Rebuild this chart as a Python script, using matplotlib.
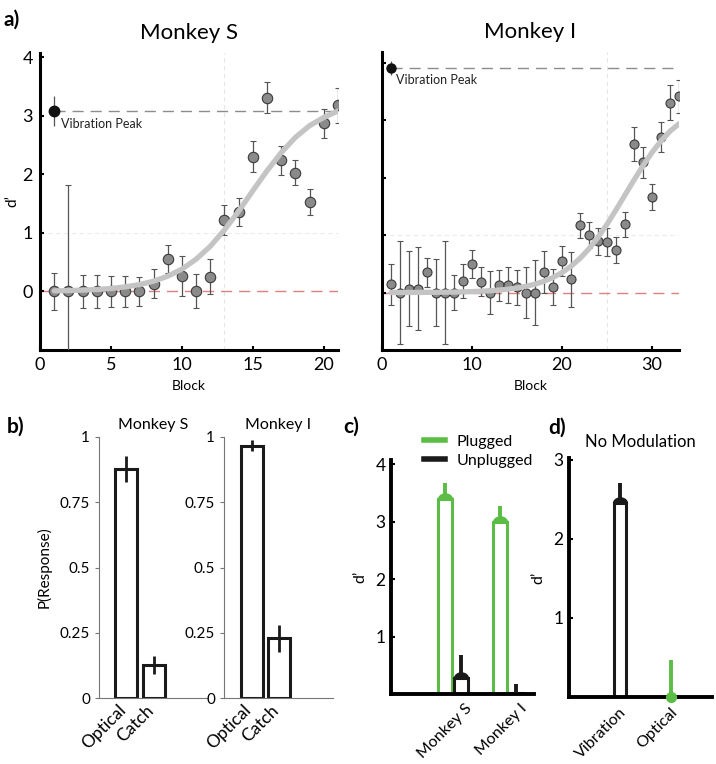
import matplotlib.pyplot as plt
import numpy as np
from matplotlib.lines import Line2D
from matplotlib.path import Path

plt.rcParams['font.family'] = ['Lato', 'DejaVu Sans']

# ---- panel a: d' per block ----
blocks_s = list(range(1, 22))
dprime_s = [0, 0, 0, 0, 0, 0, 0, 0.13, 0.55, 0.26, 0, 0.25, 1.22, 1.36, 2.3,
            3.31, 2.24, 2.03, 1.53, 2.87, 3.18]
err_s = [0.32, 1.82, 0.28, 0.28, 0.26, 0.27, 0.25, 0.25, 0.24, 0.34, 0.29,
         0.3, 0.25, 0.24, 0.26, 0.26, 0.245, 0.22, 0.22, 0.245, 0.3]
fit_s = [0.01, 0.014, 0.022, 0.033, 0.05, 0.077, 0.116, 0.174, 0.26, 0.38,
         0.55, 0.77, 1.05, 1.37, 1.72, 2.06, 2.37, 2.63, 2.83, 2.97, 3.08]
peak_s, peak_s_err = 3.08, 0.26
thresh_s = 13

blocks_i = list(range(1, 34))
dprime_i = [0.145, 0, 0.07, 0.07, 0.35, 0, 0, 0, 0.2, 0.5, 0.19, 0, 0.13,
            0.13, 0.09, 0, 0, 0.36, 0.1, 0.55, 0.23, 1.17, 1.0, 0.89, 0.88,
            0.74, 1.19, 2.59, 2.27, 1.66, 2.71, 3.31, 3.42]
err_i = [0.36, 0.9, 0.66, 0.72, 0.26, 0.58, 0.9, 0.3, 0.3, 0.25, 0.255, 0.37,
         0.27, 0.32, 0.3, 0.44, 0.56, 0.37, 0.31, 0.26, 0.48, 0.22, 0.23,
         0.23, 0.24, 0.23, 0.22, 0.29, 0.27, 0.23, 0.26, 0.3, 0.29]
fit_i = [0.001, 0.002, 0.002, 0.003, 0.004, 0.005, 0.007, 0.009, 0.013,
         0.017, 0.024, 0.032, 0.044, 0.059, 0.08, 0.109, 0.147, 0.197, 0.263,
         0.348, 0.458, 0.595, 0.763, 0.962, 1.19, 1.44, 1.7, 1.96, 2.21,
         2.44, 2.64, 2.81, 2.94]
peak_i, peak_i_err = 3.91, 0.12
thresh_i = 25

# ---- panel b: P(response) ----
b_cats = ['Optical', 'Catch']
resp_s = [0.879, 0.127]
resp_s_err = [0.05, 0.035]
resp_i = [0.967, 0.228]
resp_i_err = [0.02, 0.05]

# ---- panel c: plugged vs unplugged ----
c_monkeys = ['Monkey S', 'Monkey I']
plugged = [3.4, 3.0]
plugged_err = [0.27, 0.27]
unplugged = [0.28, 0.02]
unplugged_err = [0.4, 0.15]

# ---- panel d: no modulation ----
d_cats = ['Vibration', 'Optical']
d_vals = [2.45, 0.0]
d_err = [0.25, 0.47]

green = '#5bbd45'
W, H = 716, 764

# half disc sitting on top of the bar
t = np.linspace(0, np.pi, 20)
roof = Path(np.column_stack([np.cos(t), np.sin(t) * 0.8]), closed=False)


def box(x0, y0, x1, y1):
    return [x0 / W, 1 - y1 / H, (x1 - x0) / W, (y1 - y0) / H]


fig = plt.figure(figsize=(7.16, 7.64), dpi=100)


def curve_panel(rect, title, xb, y, e, fit, peak, peak_err, thresh, xmax, ytop, xticks, show_ylab, ms, txt_y):
    ax = fig.add_axes(rect)
    ax.axvline(thresh, color='#e6e6e6', lw=0.8, ls=(0, (4, 3)), zorder=0)
    ax.axhline(1, color='#ececec', lw=0.8, ls=(0, (4, 3)), zorder=0)
    ax.axhline(0, color='#e08080', lw=1.0, ls=(0, (8, 5)), zorder=1)
    ax.plot([1, xmax], [peak, peak], color='#8c8c8c', lw=1.0, ls=(0, (8, 5)), zorder=1)
    ax.errorbar(xb, y, yerr=e, fmt='o', ms=ms, mfc='#8a8a8a', mec='#3a3a3a',
                mew=0.8, ecolor='#555555', elinewidth=0.9, capsize=2.5,
                capthick=0.9, zorder=3)
    ax.plot(xb, fit, color='#c4c4c4', lw=3.8, solid_capstyle='round', zorder=4)
    ax.errorbar([1], [peak], yerr=[peak_err], fmt='o', ms=ms, color='#111111',
                ecolor='#555555', elinewidth=0.9, capsize=0, zorder=5)
    ax.text(1.5, txt_y, 'Vibration Peak', fontsize=9, va='center', color='#222222')
    ax.set_xlim(0, xmax)
    ax.set_ylim(-1, ytop)
    ax.set_xticks(xticks)
    ax.set_yticks([0, 1, 2, 3, 4])
    if not show_ylab:
        ax.set_yticklabels([])
    else:
        ax.set_ylabel('d’', fontsize=11, labelpad=2)
    ax.set_xlabel('Block', fontsize=10, labelpad=5)
    ax.set_title(title, fontsize=16, pad=10)
    for s in ['top', 'right']:
        ax.spines[s].set_visible(False)
    for s in ['left', 'bottom']:
        ax.spines[s].set_linewidth(2.2)
    ax.tick_params(direction='in', length=3, width=1.5, labelsize=13, pad=5)
    return ax


curve_panel(box(40, 53, 338, 350), 'Monkey S', blocks_s, dprime_s, err_s, fit_s,
            peak_s, peak_s_err, thresh_s, 21, 4.07, [0, 5, 10, 15, 20], True, 7.5, 2.86)
curve_panel(box(382, 52, 679, 350), 'Monkey I', blocks_i, dprime_i, err_i, fit_i,
            peak_i, peak_i_err, thresh_i, 33, 4.19, [0, 10, 20, 30], False, 6.5, 3.70)

# panel b
for rect, title, vals, errs, show_ylab in [
        (box(99, 437, 207, 698), 'Monkey S', resp_s, resp_s_err, True),
        (box(224, 437, 333, 698), 'Monkey I', resp_i, resp_i_err, False)]:
    ax = fig.add_axes(rect)
    xs = np.arange(1, len(vals) + 1)
    ax.bar(xs, vals, 0.8, facecolor='white', edgecolor='#1a1a1a', lw=2.2, zorder=2)
    ax.errorbar(xs, vals, yerr=errs, fmt='none', ecolor='#1a1a1a', elinewidth=2,
                capsize=0, zorder=3)
    ax.set_xlim(0, 3.95)
    ax.set_ylim(0, 1)
    ax.set_yticks([0, 0.25, 0.5, 0.75, 1])
    ax.set_yticklabels(['0', '0.25', '0.5', '0.75', '1'])
    ax.set_xticks(xs + 0.1)
    ax.set_xticklabels(b_cats, rotation=45, ha='right', fontsize=12.5)
    ax.tick_params(axis='x', length=0, pad=3)
    ax.tick_params(axis='y', length=3, width=0.8, color='#777777', labelsize=11)
    for s in ['top', 'right']:
        ax.spines[s].set_visible(False)
    for s in ['left', 'bottom']:
        ax.spines[s].set_linewidth(0.8)
        ax.spines[s].set_color('#777777')
    ax.set_title(title, fontsize=11.5, pad=6)
    if show_ylab:
        ax.set_ylabel('P(Response)', fontsize=11, labelpad=6)

# panel c
ax = fig.add_axes(box(391, 460, 534, 694))
xc = np.arange(1, 3)
off, bw = 0.145, 0.25
ax.bar(xc - off, plugged, bw, facecolor='white', edgecolor=green, lw=2.2, zorder=2)
ax.errorbar(xc - off, plugged, yerr=[[0, 0], plugged_err], fmt='none',
            ecolor=green, elinewidth=2.8, capsize=0, zorder=3)
ax.plot(xc - off, plugged, ls='none', marker=roof, ms=10, color=green, zorder=4)
ax.bar(xc + off, unplugged, bw, facecolor='white', edgecolor='#1a1a1a', lw=2.2, zorder=2)
ax.errorbar(xc + off, unplugged, yerr=[[0, 0], unplugged_err], fmt='none',
            ecolor='#1a1a1a', elinewidth=2.8, capsize=0, zorder=3)
ax.plot(xc[:1] + off, unplugged[:1], ls='none', marker=roof, ms=10, color='#1a1a1a', zorder=4)
ax.set_xlim(-0.13, 2.47)
ax.set_ylim(0, 4.07)
ax.set_yticks([1, 2, 3, 4])
ax.set_xticks(xc + off + 0.25)
ax.set_xticklabels(c_monkeys, rotation=45, ha='right', fontsize=11.5)
ax.tick_params(axis='x', length=0, pad=5)
ax.tick_params(axis='y', direction='in', length=3, width=1.5, labelsize=12.5, pad=4)
for s in ['top', 'right']:
    ax.spines[s].set_visible(False)
for s in ['left', 'bottom']:
    ax.spines[s].set_linewidth(2.8)
ax.set_ylabel('d’', fontsize=11.5, labelpad=6)
fig.legend([Line2D([], [], color=green, lw=4), Line2D([], [], color='#1a1a1a', lw=4)],
           ['Plugged', 'Unplugged'], loc='upper left', frameon=False,
           bbox_to_anchor=(410 / W, 1 - 420 / H), fontsize=11.5, handlelength=1.3,
           labelspacing=0.3, handletextpad=0.7)

# panel d
ax = fig.add_axes(box(569, 458, 712, 697))
xd = np.arange(1, 3)
d_colors = ['#1a1a1a', green]
for xv, v, e, c in zip(xd, d_vals, d_err, d_colors):
    ax.errorbar([xv], [v], yerr=[[0], [e]], fmt='none', ecolor=c,
                elinewidth=2.8, capsize=0, zorder=3, clip_on=False)
    if v > 0:
        ax.bar(xv, v, 0.25, facecolor='white', edgecolor=c, lw=2.2, zorder=2)
        ax.plot([xv], [v], ls='none', marker=roof, ms=10, color=c, zorder=4)
    else:
        ax.plot([xv], [v], ls='none', marker='o', ms=7, color=c, zorder=4, clip_on=False)
ax.set_xlim(0, 2.8)
ax.set_ylim(0, 3.02)
ax.set_yticks([1, 2, 3])
ax.set_xticks(xd + 0.18)
ax.set_xticklabels(d_cats, rotation=45, ha='right', fontsize=11.5)
ax.tick_params(axis='x', length=0, pad=6)
ax.tick_params(axis='y', direction='in', length=3, width=1.5, labelsize=12.5, pad=4)
for s in ['top', 'right']:
    ax.spines[s].set_visible(False)
for s in ['left', 'bottom']:
    ax.spines[s].set_linewidth(2.8)
ax.set_ylabel('d’', fontsize=11.5, labelpad=6)
ax.set_title('No Modulation', fontsize=12, pad=8)

# panel letters
for lbl, x, y in [('a)', 3, 20), ('b)', 7, 427), ('c)', 343, 427), ('d)', 548, 428)]:
    fig.text(x / W, 1 - y / H, lbl, fontsize=15, fontweight='bold', va='center')

fig.savefig('out.png', dpi=100)
